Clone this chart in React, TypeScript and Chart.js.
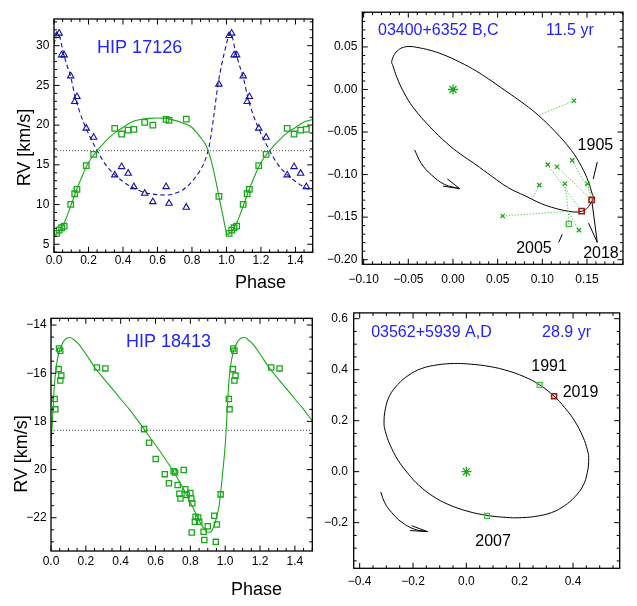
import { useEffect, useRef } from 'react';
import { Chart, registerables } from 'chart.js';

Chart.register(...registerables);

// ================= Panel 1: HIP 17126 =================
const HIP17126_PHASE = [0.015, 0.03, 0.044, 0.059, 0.097, 0.12, 0.133, 0.187, 0.23, 0.352, 0.392, 0.43, 0.463, 0.526, 0.573, 0.65, 0.667, 0.767, 0.956];
const HIP17126_RV_A = [6.37, 6.79, 7.08, 7.29, 10.03, 11.36, 11.91, 14.89, 16.32, 19.6, 18.88, 19.38, 19.47, 20.35, 20.01, 20.73, 20.6, 20.75, 11.03];
const HIP17126_RV_B = [31.26, 31.56, 28.83, 28.83, 26.18, 22.95, 23.58, 19.6, 18.46, 13.72, 14.76, 13.93, 12.24, 11.41, 10.35, 12.24, 10.15, 9.65, 25.14];
const HIP17126_FIT_A_PHASE = [0, 0.01, 0.02, 0.04, 0.06, 0.08, 0.1, 0.13, 0.16, 0.19, 0.22, 0.25, 0.3, 0.35, 0.4, 0.45, 0.5, 0.55, 0.6, 0.65, 0.7, 0.75, 0.8, 0.85, 0.88, 0.9, 0.92, 0.94, 0.96, 0.98, 1.0];
const HIP17126_FIT_A = [6.45, 6.25, 6.35, 6.95, 7.75, 8.8, 10.0, 11.8, 13.4, 14.9, 15.95, 16.8, 18.0, 19.0, 19.7, 20.4, 20.7, 20.85, 20.9, 20.85, 20.6, 20.25, 19.7, 18.45, 17.5, 16.4, 14.8, 12.8, 10.6, 8.55, 6.45];
const HIP17126_FIT_B_PHASE = [0, 0.02, 0.035, 0.05, 0.07, 0.1, 0.12, 0.15, 0.19, 0.25, 0.3, 0.35, 0.4, 0.45, 0.5, 0.55, 0.6, 0.65, 0.7, 0.75, 0.8, 0.85, 0.875, 0.9, 0.925, 0.95, 0.975, 1.0];
const HIP17126_FIT_B = [30.2, 31.6, 31.0, 29.5, 27.9, 25.8, 23.8, 21.6, 19.4, 16.8, 15.0, 13.8, 12.9, 12.2, 11.7, 11.4, 11.25, 11.2, 11.4, 11.9, 12.9, 14.4, 15.5, 17.4, 20.9, 25.0, 27.9, 30.2];
const HIP17126_GAMMA = 16.78;
const PHASE_TICKS = [0, 0.2, 0.4, 0.6, 0.8, 1.0, 1.2, 1.4];
const HIP17126_RV_TICKS = [5, 10, 15, 20, 25, 30];

// ================= Panel 2: 03400+6352 B,C =================
const BC_ORBIT_X = [0.0448, 0.064, 0.0806, 0.0955, 0.1141, 0.1328, 0.144, 0.1514, 0.1559, 0.1572, 0.1535, 0.1496, 0.144, 0.1367, 0.129, 0.1144, 0.0993, 0.0808, 0.0619, 0.0439, 0.0246, 0.0081, -0.0068, -0.0255, -0.0442, -0.0554, -0.0628, -0.0673, -0.0686, -0.0655, -0.061, -0.0554, -0.0481, -0.0404, -0.0257, -0.0106, 0.0078, 0.0267, 0.0448];
const BC_ORBIT_Y = [0.0088, -0.0053, -0.0178, -0.0303, -0.0492, -0.0719, -0.0908, -0.1078, -0.123, -0.1268, -0.1347, -0.14, -0.1431, -0.144, -0.143, -0.1396, -0.1343, -0.125, -0.1154, -0.1023, -0.0876, -0.0757, -0.0632, -0.0442, -0.0216, -0.0027, 0.0143, 0.0281, 0.0327, 0.0412, 0.0465, 0.0496, 0.0505, 0.0495, 0.0461, 0.0408, 0.0321, 0.0213, 0.0088];
const BC_MEAS_X = [0.1354, 0.1335, 0.106, 0.1164, 0.0966, 0.1253, 0.1507, 0.0556, 0.141];
const BC_MEAS_Y = [-0.0132, -0.0833, -0.0882, -0.0908, -0.1123, -0.1108, -0.1108, -0.1486, -0.1653];
const BC_PRED_X = [0.0955, 0.1533, 0.144, 0.1552, 0.088, 0.1291, 0.1552, 0.1291, 0.1291];
const BC_PRED_Y = [-0.0303, -0.121, -0.1431, -0.1298, -0.1297, -0.1432, -0.1298, -0.1432, -0.1432];
const BC_SQ_X = [0.1298];
const BC_SQ_Y = [-0.1581];
const BC_SQ_PRED_X = [0.1291];
const BC_SQ_PRED_Y = [-0.1432];
const BC_NEW_X = [0.1552, 0.144];
const BC_NEW_Y = [-0.1298, -0.143];
const BC_ARROW_X = [-0.0429, -0.0354, -0.0243, -0.0093, 0.0075];
const BC_ARROW_Y = [-0.0711, -0.087, -0.1002, -0.1116, -0.1165];
const BC_HEAD_X = [-0.0063, 0.0075, -0.0112];
const BC_HEAD_Y = [-0.1051, -0.1165, -0.1135];
const BC_LEADERS = [
  [[0.1615, -0.0851], [0.157, -0.1052]],
  [[0.1223, -0.1702], [0.1183, -0.1797]],
  [[0.1518, -0.157], [0.1615, -0.1797]],
  [[0.1555, -0.1316], [0.1615, -0.1797]],
];
const BC_X_TICKS = [-0.1, -0.05, 0, 0.05, 0.1, 0.15];
const BC_Y_TICKS = [-0.2, -0.15, -0.1, -0.05, 0, 0.05];

// ================= Panel 3: HIP 18413 =================
const HIP18413_PHASE = [0.021, 0.025, 0.044, 0.046, 0.053, 0.053, 0.059, 0.264, 0.312, 0.534, 0.563, 0.601, 0.653, 0.677, 0.704, 0.712, 0.727, 0.737, 0.743, 0.762, 0.771, 0.779, 0.8, 0.805, 0.811, 0.808, 0.826, 0.83, 0.845, 0.851, 0.876, 0.88, 0.9, 0.937, 0.952, 0.946, 0.974];
const HIP18413_RV = [-17.07, -17.5, -15.83, -14.97, -15.07, -16.3, -16.1, -15.76, -15.8, -18.32, -18.89, -19.56, -20.19, -20.57, -20.07, -20.12, -20.64, -21.0, -21.2, -20.02, -20.82, -21.05, -20.97, -21.2, -21.4, -22.61, -22.17, -21.96, -21.99, -22.17, -22.58, -22.92, -22.35, -21.92, -22.28, -23.0, -21.03];
const HIP18413_FIT_PHASE = [0, 0.01, 0.02, 0.03, 0.045, 0.07, 0.09, 0.11, 0.13, 0.16, 0.2, 0.25, 0.3, 0.35, 0.4, 0.45, 0.5, 0.55, 0.6, 0.65, 0.7, 0.75, 0.8, 0.85, 0.875, 0.9, 0.915, 0.93, 0.95, 0.965, 0.975, 0.99, 1.0];
const HIP18413_FIT = [-19.0, -17.75, -16.45, -15.75, -15.15, -14.7, -14.55, -14.52, -14.6, -14.8, -15.2, -15.75, -16.2, -16.63, -17.07, -17.5, -17.98, -18.48, -18.98, -19.5, -20.05, -20.66, -21.36, -22.1, -22.42, -22.6, -22.6, -22.45, -22.0, -21.5, -20.9, -19.8, -19.0];
const HIP18413_GAMMA = -18.37;
const HIP18413_RV_TICKS = [-22, -20, -18, -16, -14];

// ================= Panel 4: 03562+5939 A,D =================
const AD_ORBIT_X = [0.0, 0.0688, 0.1438, 0.2188, 0.275, 0.3288, 0.3688, 0.4063, 0.4375, 0.4538, 0.4588, 0.4538, 0.4375, 0.4063, 0.3688, 0.3188, 0.2563, 0.1938, 0.15, 0.0813, 0.0063, -0.0688, -0.125, -0.1788, -0.2188, -0.2563, -0.2875, -0.3038, -0.3088, -0.3038, -0.2875, -0.2563, -0.2188, -0.1688, -0.1063, -0.0438, 0.0];
const AD_ORBIT_Y = [0.4231, 0.4156, 0.3992, 0.3716, 0.3402, 0.2963, 0.2511, 0.1984, 0.1356, 0.0854, 0.0552, -0.0025, -0.0552, -0.0992, -0.1331, -0.1607, -0.1758, -0.1808, -0.1795, -0.172, -0.1557, -0.1281, -0.0967, -0.0527, -0.0075, 0.0452, 0.108, 0.1582, 0.1883, 0.2461, 0.2988, 0.3427, 0.3766, 0.4043, 0.4193, 0.4244, 0.4231];
const AD_OLD_X = [0.275, 0.0775];
const AD_OLD_Y = [0.34, -0.1735];
const AD_NEW_X = [0.329];
const AD_NEW_Y = [0.296];
const AD_ARROW_X = [-0.321, -0.306, -0.281, -0.244, -0.194, -0.146];
const AD_ARROW_Y = [-0.08, -0.122, -0.159, -0.197, -0.226, -0.235];
const AD_HEAD_X = [-0.205, -0.146, -0.211];
const AD_HEAD_Y = [-0.212, -0.235, -0.231];
const AD_X_TICKS = [-0.4, -0.2, 0, 0.2, 0.4];
const AD_Y_TICKS = [-0.2, 0, 0.2, 0.4, 0.6];

// ================= styling =================
const FONT = '"Liberation Sans", Arial, Helvetica, sans-serif';
const GREEN = '#1aa81a';
const LIGHT_GREEN = '#3cc83c';
const BLUE = '#1212a6';
const TITLE_BLUE = '#2222ff';
const RED = '#a3180e';

const xy = (xs: number[], ys: number[]) => xs.map((x, i) => ({ x, y: ys[i] }));
const foldPoints = (ph: number[], v: number[]) => {
  const out = xy(ph, v);
  ph.forEach((p, i) => { if (p + 1 <= 1.5) out.push({ x: p + 1, y: v[i] }); });
  return out;
};
const foldCurve = (ph: number[], v: number[]) => {
  const out = xy(ph, v);
  ph.forEach((p, i) => { if (p > 0 && p <= 0.5) out.push({ x: p + 1, y: v[i] }); });
  return out;
};
const pairs = (ax: number[], ay: number[], bx: number[], by: number[]) => {
  const out: any[] = [];
  ax.forEach((x, i) => { out.push({ x, y: ay[i] }, { x: bx[i], y: by[i] }, { x: null, y: null }); });
  return out;
};
const segs = (list: number[][][]) => {
  const out: any[] = [];
  list.forEach((s) => { s.forEach((p) => out.push({ x: p[0], y: p[1] })); out.push({ x: null, y: null }); });
  return out;
};

const fmt = (d: number) => (v: number) => (v < -1e-9 ? '\u2212' : '') + Math.abs(v).toFixed(d);

const curve = (data: any[], color: string, extra: any = {}) => ({
  type: 'line', data, showLine: true, pointRadius: 0, borderColor: color, borderWidth: 1.1, fill: false, ...extra,
});
const markers = (data: any[], style: string, color: string, radius: number, bw = 1.3) => ({
  data, showLine: false, pointStyle: style, pointRadius: radius, pointBorderColor: color, pointBackgroundColor: 'rgba(0,0,0,0)', pointBorderWidth: bw, borderColor: color, backgroundColor: 'rgba(0,0,0,0)',
});

type TextItem = { text: string; x: number; y: number; space: 'data' | 'page'; align?: CanvasTextAlign; size: number; color: string; rotate?: boolean; bg?: boolean };

const PANELS: any[] = [
  {
    box: { cx: 0, cy: 0, cw: 318, ch: 300, L: 54, T: 19, R: 316.5, B: 252.3 },
    x: { min: 0, max: 1.5, ticks: PHASE_TICKS, minor: 0.05, fmt: fmt(1), pad: 1.5 },
    y: { min: 3.99, max: 33.36, ticks: HIP17126_RV_TICKS, minor: 1, fmt: fmt(0), pad: 4.7 },
    datasets: [
      markers(foldPoints(HIP17126_PHASE, HIP17126_RV_A), 'rect', GREEN, 3.9),
      markers(foldPoints(HIP17126_PHASE, HIP17126_RV_B), 'triangle', BLUE, 3.7, 1.1),
      curve(foldCurve(HIP17126_FIT_A_PHASE, HIP17126_FIT_A), GREEN, { cubicInterpolationMode: 'monotone' }),
      curve(foldCurve(HIP17126_FIT_B_PHASE, HIP17126_FIT_B), BLUE, { cubicInterpolationMode: 'monotone', borderDash: [4.5, 3] }),
      curve([{ x: 0, y: HIP17126_GAMMA }, { x: 1.5, y: HIP17126_GAMMA }], '#555', { borderDash: [1, 2], borderWidth: 1 }),
    ],
    texts: [
      { text: 'HIP 17126', x: 0.25, y: 29.67, space: 'data', align: 'left', size: 18, color: TITLE_BLUE },
      { text: 'RV [km/s]', x: 25, y: 147.5, space: 'page', align: 'center', size: 18, color: '#000', rotate: true },
      { text: 'Phase', x: 260.5, y: 283, space: 'page', align: 'center', size: 18, color: '#000' },
    ] as TextItem[],
  },
  {
    box: { cx: 318, cy: 0, cw: 319, ch: 300, L: 362.3, T: 3.3, R: 623, B: 264.3 },
    x: { min: -0.1015, max: 0.1903, ticks: BC_X_TICKS, minor: 0.01, fmt: fmt(2), pad: 7.8 },
    y: { min: -0.2054, max: 0.0908, ticks: BC_Y_TICKS, minor: 0.01, fmt: fmt(2), pad: 5 },
    datasets: [
      markers(xy(BC_NEW_X, BC_NEW_Y), 'rect', RED, 3.7, 1.6),
      markers(xy(BC_SQ_X, BC_SQ_Y), 'rect', LIGHT_GREEN, 3.7, 1.3),
      markers(xy(BC_MEAS_X, BC_MEAS_Y), 'crossRot', GREEN, 3, 1.3),
      markers([{ x: 0, y: 0 }], 'star', GREEN, 5, 1.3),
      curve(pairs(BC_MEAS_X, BC_MEAS_Y, BC_PRED_X, BC_PRED_Y).concat(pairs(BC_SQ_X, BC_SQ_Y, BC_SQ_PRED_X, BC_SQ_PRED_Y)), LIGHT_GREEN, { borderDash: [1.2, 1.8], borderWidth: 1, tension: 0 }),
      curve(xy(BC_ORBIT_X, BC_ORBIT_Y), '#000', { tension: 0.4, borderWidth: 1 }),
      curve(xy(BC_ARROW_X, BC_ARROW_Y), '#000', { tension: 0.4, borderWidth: 1 }),
      curve(xy(BC_HEAD_X, BC_HEAD_Y), '#000', { tension: 0, borderWidth: 1 }),
      curve(segs(BC_LEADERS), '#000', { tension: 0, borderWidth: 1 }),
    ],
    texts: [
      { text: '03400+6352 B,C', x: -0.0839, y: 0.0688, space: 'data', align: 'left', size: 16, color: TITLE_BLUE },
      { text: '11.5 yr', x: 0.1041, y: 0.0688, space: 'data', align: 'left', size: 16, color: TITLE_BLUE },
      { text: '1905', x: 0.1594, y: -0.0662, space: 'data', align: 'center', size: 16, color: '#000' },
      { text: '2005', x: 0.0906, y: -0.1869, space: 'data', align: 'center', size: 16, color: '#000' },
      { text: '2018', x: 0.1656, y: -0.1925, space: 'data', align: 'center', size: 16, color: '#000' },
    ] as TextItem[],
  },
  {
    box: { cx: 0, cy: 300, cw: 318, ch: 306, L: 51, T: 318.3, R: 312.3, B: 551 },
    x: { min: 0, max: 1.5, ticks: PHASE_TICKS, minor: 0.05, fmt: fmt(1), pad: 3.5 },
    y: { min: -23.38, max: -13.72, ticks: HIP18413_RV_TICKS, minor: 0.5, fmt: fmt(0), pad: 4.3 },
    datasets: [
      markers(foldPoints(HIP18413_PHASE, HIP18413_RV), 'rect', GREEN, 3.7),
      curve(foldCurve(HIP18413_FIT_PHASE, HIP18413_FIT), GREEN, { cubicInterpolationMode: 'monotone' }),
      curve([{ x: 0, y: HIP18413_GAMMA }, { x: 1.5, y: HIP18413_GAMMA }], '#444', { borderDash: [1, 2], borderWidth: 1 }),
    ],
    texts: [
      { text: 'HIP 18413', x: 0.43, y: -14.69, space: 'data', align: 'left', size: 18, color: TITLE_BLUE },
      { text: 'RV [km/s]', x: 22.5, y: 454, space: 'page', align: 'center', size: 18, color: '#000', rotate: true, bg: true },
      { text: 'Phase', x: 256.5, y: 590, space: 'page', align: 'center', size: 18, color: '#000' },
    ] as TextItem[],
  },
  {
    box: { cx: 318, cy: 300, cw: 319, ch: 306, L: 353.7, T: 302.3, R: 619.7, B: 568.3 },
    x: { min: -0.4225, max: 0.575, ticks: AD_X_TICKS, minor: 0.05, fmt: fmt(1), pad: 6.2 },
    y: { min: -0.379, max: 0.6227, ticks: AD_Y_TICKS, minor: 0.05, fmt: fmt(1), pad: 5.7 },
    datasets: [
      markers(xy(AD_NEW_X, AD_NEW_Y), 'rect', RED, 3.5, 1.6),
      markers(xy(AD_OLD_X, AD_OLD_Y), 'rect', LIGHT_GREEN, 3.5, 1.3),
      markers([{ x: 0, y: 0 }], 'star', GREEN, 5, 1.3),
      curve(xy(AD_ORBIT_X, AD_ORBIT_Y), '#000', { tension: 0.4, borderWidth: 1 }),
      curve(xy(AD_ARROW_X, AD_ARROW_Y), '#000', { tension: 0.4, borderWidth: 1 }),
      curve(xy(AD_HEAD_X, AD_HEAD_Y), '#000', { tension: 0, borderWidth: 1 }),
    ],
    texts: [
      { text: '03562+5939 A,D', x: -0.357, y: 0.544, space: 'data', align: 'left', size: 16, color: TITLE_BLUE },
      { text: '28.9 yr', x: 0.284, y: 0.544, space: 'data', align: 'left', size: 16, color: TITLE_BLUE },
      { text: '1991', x: 0.31, y: 0.413, space: 'data', align: 'center', size: 16, color: '#000' },
      { text: '2019', x: 0.428, y: 0.311, space: 'data', align: 'center', size: 16, color: '#000' },
      { text: '2007', x: 0.1, y: -0.276, space: 'data', align: 'center', size: 16, color: '#000' },
    ] as TextItem[],
  },
];

function buildChart(canvas: HTMLCanvasElement, s: any) {
  const { cx, cy, cw, ch, L, T, R, B } = s.box;

  const framePlugin = {
    id: 'idlFrame',
    afterDatasetsDraw(chart: any) {
      const { ctx, chartArea: a } = chart;
      const xs = chart.scales.x;
      const ys = chart.scales.y;
      ctx.save();
      ctx.strokeStyle = '#000';
      ctx.lineWidth = 1.3;
      ctx.strokeRect(a.left, a.top, a.right - a.left, a.bottom - a.top);
      ctx.lineWidth = 1;
      const MAJ = 5.5;
      const MIN = 3;
      const isMajor = (v: number, list: number[]) => list.some((m) => Math.abs(m - v) < 1e-6);
      const drawX = (v: number, len: number) => {
        const p = xs.getPixelForValue(v);
        ctx.beginPath();
        ctx.moveTo(p, a.bottom); ctx.lineTo(p, a.bottom - len);
        ctx.moveTo(p, a.top); ctx.lineTo(p, a.top + len);
        ctx.stroke();
      };
      const drawY = (v: number, len: number) => {
        const p = ys.getPixelForValue(v);
        ctx.beginPath();
        ctx.moveTo(a.left, p); ctx.lineTo(a.left + len, p);
        ctx.moveTo(a.right, p); ctx.lineTo(a.right - len, p);
        ctx.stroke();
      };
      s.x.ticks.forEach((v: number) => drawX(v, MAJ));
      s.y.ticks.forEach((v: number) => drawY(v, MAJ));
      for (let i = Math.ceil(s.x.min / s.x.minor - 1e-6); i * s.x.minor <= s.x.max + 1e-9; i++) {
        const v = i * s.x.minor;
        if (!isMajor(v, s.x.ticks)) drawX(v, MIN);
      }
      for (let i = Math.ceil(s.y.min / s.y.minor - 1e-6); i * s.y.minor <= s.y.max + 1e-9; i++) {
        const v = i * s.y.minor;
        if (!isMajor(v, s.y.ticks)) drawY(v, MIN);
      }
      ctx.restore();
    },
  };

  const textPlugin = {
    id: 'idlTexts',
    afterDraw(chart: any) {
      const { ctx } = chart;
      const xs = chart.scales.x;
      const ys = chart.scales.y;
      ctx.save();
      s.texts.forEach((t: TextItem) => {
        const px = t.space === 'data' ? xs.getPixelForValue(t.x) : t.x - cx;
        const py = t.space === 'data' ? ys.getPixelForValue(t.y) : t.y - cy;
        ctx.save();
        ctx.translate(px, py);
        if (t.rotate) ctx.rotate(-Math.PI / 2);
        ctx.font = `${t.size}px ${FONT}`;
        ctx.textAlign = t.align || 'left';
        ctx.textBaseline = 'middle';
        if (t.bg) {
          const w = ctx.measureText(t.text).width;
          ctx.fillStyle = '#fff';
          ctx.fillRect(-w / 2 - 2, -t.size * 0.62, w + 4, t.size * 1.3);
        }
        ctx.fillStyle = t.color;
        ctx.fillText(t.text, 0, 0);
        ctx.restore();
      });
      ctx.restore();
    },
  };

  const tickFont = { size: 12, family: FONT };

  return new Chart(canvas, {
    type: 'scatter',
    data: { datasets: s.datasets },
    options: {
      animation: false,
      responsive: false,
      devicePixelRatio: 1,
      events: [],
      layout: { padding: { left: 0, top: T - cy, right: cx + cw - R, bottom: 0 } },
      plugins: { legend: { display: false }, tooltip: { enabled: false } },
      scales: {
        x: {
          type: 'linear',
          position: 'bottom',
          min: s.x.min,
          max: s.x.max,
          afterBuildTicks: (sc: any) => { sc.ticks = s.x.ticks.map((value: number) => ({ value })); },
          afterFit: (sc: any) => { sc.height = cy + ch - B; },
          grid: { display: false, drawTicks: false },
          border: { display: false },
          ticks: { padding: s.x.pad, font: tickFont, color: '#000', maxRotation: 0, autoSkip: false, callback: (v: any) => s.x.fmt(Number(v)) },
        },
        y: {
          type: 'linear',
          position: 'left',
          min: s.y.min,
          max: s.y.max,
          afterBuildTicks: (sc: any) => { sc.ticks = s.y.ticks.map((value: number) => ({ value })); },
          afterFit: (sc: any) => { sc.width = L - cx; },
          grid: { display: false, drawTicks: false },
          border: { display: false },
          ticks: { padding: s.y.pad, font: tickFont, color: '#000', autoSkip: false, callback: (v: any) => s.y.fmt(Number(v)) },
        },
      },
    } as any,
    plugins: [framePlugin, textPlugin],
  } as any);
}

function Panel({ spec }: { spec: any }) {
  const ref = useRef<HTMLCanvasElement>(null);
  useEffect(() => {
    const chart = buildChart(ref.current as HTMLCanvasElement, spec);
    return () => chart.destroy();
  }, [spec]);
  const { cx, cy, cw, ch } = spec.box;
  return (
    <canvas
      ref={ref}
      width={cw}
      height={ch}
      style={{ position: 'absolute', left: cx, top: cy, width: cw, height: ch, display: 'block' }}
    />
  );
}

export default function App() {
  return (
    <div style={{ position: 'absolute', left: 0, top: 0, width: 637, height: 606, background: '#fff', overflow: 'hidden' }}>
      {PANELS.map((p, i) => (
        <Panel key={i} spec={p} />
      ))}
    </div>
  );
}
